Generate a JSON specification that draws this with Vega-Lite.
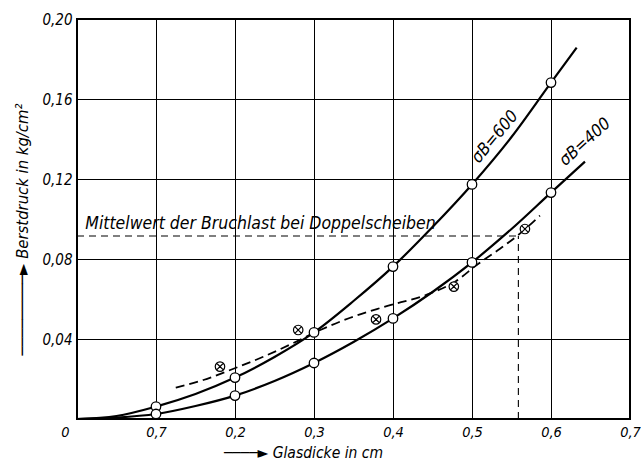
{
  "$schema": "https://vega.github.io/schema/vega-lite/v6.json",
  "width": 553,
  "height": 400,
  "autosize": {"type": "none"},
  "padding": {"left": 77, "top": 19, "right": 11, "bottom": 44},
  "background": "white",
  "config": {
    "font": "DejaVu Sans Condensed",
    "view": {"stroke": "black", "strokeWidth": 2},
    "axis": {
      "labelFont": "DejaVu Sans Condensed",
      "labelFontStyle": "italic",
      "labelFontSize": 15,
      "labelColor": "black",
      "titleFont": "DejaVu Sans Condensed",
      "titleFontStyle": "italic",
      "titleFontWeight": "normal",
      "titleFontSize": 16.5,
      "titleColor": "black",
      "gridColor": "black",
      "gridWidth": 1,
      "gridOpacity": 1,
      "domain": false,
      "ticks": false
    }
  },
  "datasets": {
    "curves": [
      {"x": 0, "y": 0, "curve": "600"},
      {"x": 0.05, "y": 0.0015, "curve": "600"},
      {"x": 0.1, "y": 0.0062, "curve": "600"},
      {"x": 0.15, "y": 0.0125, "curve": "600"},
      {"x": 0.2, "y": 0.0207, "curve": "600"},
      {"x": 0.25, "y": 0.031, "curve": "600"},
      {"x": 0.3, "y": 0.0433, "curve": "600"},
      {"x": 0.35, "y": 0.059, "curve": "600"},
      {"x": 0.4, "y": 0.0762, "curve": "600"},
      {"x": 0.45, "y": 0.096, "curve": "600"},
      {"x": 0.5, "y": 0.1173, "curve": "600"},
      {"x": 0.55, "y": 0.141, "curve": "600"},
      {"x": 0.6, "y": 0.1682, "curve": "600"},
      {"x": 0.6325, "y": 0.1857, "curve": "600"},
      {"x": 0, "y": 0, "curve": "400"},
      {"x": 0.05, "y": 0.0007, "curve": "400"},
      {"x": 0.1, "y": 0.0025, "curve": "400"},
      {"x": 0.15, "y": 0.0065, "curve": "400"},
      {"x": 0.2, "y": 0.0117, "curve": "400"},
      {"x": 0.25, "y": 0.019, "curve": "400"},
      {"x": 0.3, "y": 0.028, "curve": "400"},
      {"x": 0.35, "y": 0.0385, "curve": "400"},
      {"x": 0.4, "y": 0.0503, "curve": "400"},
      {"x": 0.45, "y": 0.0635, "curve": "400"},
      {"x": 0.5, "y": 0.0783, "curve": "400"},
      {"x": 0.55, "y": 0.095, "curve": "400"},
      {"x": 0.6, "y": 0.1132, "curve": "400"},
      {"x": 0.643, "y": 0.1287, "curve": "400"}
    ],
    "dashed": [
      {"x": 0.125, "y": 0.0157},
      {"x": 0.16, "y": 0.0195},
      {"x": 0.194, "y": 0.0245},
      {"x": 0.235, "y": 0.031},
      {"x": 0.273, "y": 0.0378},
      {"x": 0.308, "y": 0.0445},
      {"x": 0.345, "y": 0.0505},
      {"x": 0.388, "y": 0.056},
      {"x": 0.447, "y": 0.0628},
      {"x": 0.48, "y": 0.069},
      {"x": 0.506, "y": 0.077},
      {"x": 0.535, "y": 0.085},
      {"x": 0.561, "y": 0.0928},
      {"x": 0.586, "y": 0.1017}
    ],
    "refs": [
      {"x": 0, "x2": 0.5587, "y": 0.0915, "y2": 0.0915},
      {"x": 0.5587, "x2": 0.5587, "y": 0, "y2": 0.0915}
    ],
    "open": [
      {"x": 0.1, "y": 0.0062},
      {"x": 0.1, "y": 0.0025},
      {"x": 0.2, "y": 0.0207},
      {"x": 0.2, "y": 0.0117},
      {"x": 0.3, "y": 0.0433},
      {"x": 0.3, "y": 0.028},
      {"x": 0.4, "y": 0.0762},
      {"x": 0.4, "y": 0.0503},
      {"x": 0.5, "y": 0.1173},
      {"x": 0.5, "y": 0.0783},
      {"x": 0.6, "y": 0.1682},
      {"x": 0.6, "y": 0.1132}
    ],
    "crossed": [
      {"x": 0.181, "y": 0.0262},
      {"x": 0.28, "y": 0.0445},
      {"x": 0.3785, "y": 0.0498},
      {"x": 0.477, "y": 0.0662},
      {"x": 0.567, "y": 0.095}
    ],
    "labels": [
      {"x": 0.529, "y": 0.141, "text": "σB=600", "angle": 310},
      {"x": 0.643, "y": 0.1385, "text": "σB=400", "angle": 318}
    ],
    "note": [
      {"x": 0.0105, "y": 0.095, "text": "Mittelwert der Bruchlast bei Doppelscheiben"}
    ]
  },
  "layer": [
    {
      "data": {"name": "refs"},
      "mark": {"type": "rule", "strokeDash": [7, 5], "strokeWidth": 1.1, "color": "black"},
      "encoding": {
        "x": {"field": "x", "type": "quantitative", "scale": {"domain": [0, 0.7], "nice": false, "zero": false},
          "axis": {"values": [0, 0.1, 0.2, 0.3, 0.4, 0.5, 0.6, 0.7], "grid": true, "labelPadding": 6, "labelFontSize": 14.5,
            "labelExpr": "datum.value == 0 ? '0' : (datum.value < 0.15 ? '0,7' : replace(format(datum.value, '.1f'), '.', ','))",
            "labelAlign": {"condition": {"test": "datum.value == 0", "value": "right"}, "value": "center"},
            "labelOffset": {"condition": {"test": "datum.value == 0", "value": -8}, "value": 0},
            "title": "────► Glasdicke in cm", "titleFontSize": 15.5, "titleX": 226, "titleY": 38.5, "titleAlign": "center", "titleBaseline": "alphabetic"}},
        "x2": {"field": "x2"},
        "y": {"field": "y", "type": "quantitative", "scale": {"domain": [0, 0.2], "nice": false, "zero": false},
          "axis": {"values": [0, 0.04, 0.08, 0.12, 0.16, 0.2], "grid": true, "labelPadding": 5,
            "labelExpr": "datum.value == 0 ? '' : replace(format(datum.value, '.2f'), '.', ',')",
            "title": "─────────► Berstdruck in kg/cm²", "titleX": -55, "titleY": 210, "titleAngle": 270, "titleAlign": "center", "titleBaseline": "middle"}},
        "y2": {"field": "y2"}
      }
    },
    {
      "data": {"name": "curves"},
      "mark": {"type": "line", "interpolate": "monotone", "color": "black", "strokeWidth": 2.2},
      "encoding": {
        "x": {"field": "x", "type": "quantitative"},
        "y": {"field": "y", "type": "quantitative"},
        "detail": {"field": "curve"}
      }
    },
    {
      "data": {"name": "dashed"},
      "mark": {"type": "line", "interpolate": "monotone", "color": "black", "strokeWidth": 1.8, "strokeDash": [9, 5]},
      "encoding": {
        "x": {"field": "x", "type": "quantitative"},
        "y": {"field": "y", "type": "quantitative"}
      }
    },
    {
      "data": {"name": "open"},
      "mark": {"type": "point", "shape": "circle", "filled": false, "fill": "white", "fillOpacity": 1, "stroke": "black", "strokeWidth": 1.3, "size": 90, "opacity": 1},
      "encoding": {
        "x": {"field": "x", "type": "quantitative"},
        "y": {"field": "y", "type": "quantitative"}
      }
    },
    {
      "data": {"name": "crossed"},
      "mark": {"type": "point", "shape": "M -1 0 A 1 1 0 1 0 1 0 A 1 1 0 1 0 -1 0 M -0.65 -0.65 L 0.65 0.65 M -0.65 0.65 L 0.65 -0.65", "filled": false, "fill": "white", "fillOpacity": 1, "stroke": "black", "strokeWidth": 1.2, "size": 90, "opacity": 1},
      "encoding": {
        "x": {"field": "x", "type": "quantitative"},
        "y": {"field": "y", "type": "quantitative"}
      }
    },
    {
      "data": {"name": "labels"},
      "mark": {"type": "text", "fontSize": 17, "fontStyle": "italic", "color": "black", "align": "center", "baseline": "middle"},
      "encoding": {
        "x": {"field": "x", "type": "quantitative"},
        "y": {"field": "y", "type": "quantitative"},
        "text": {"field": "text"},
        "angle": {"field": "angle", "type": "quantitative", "scale": null}
      }
    },
    {
      "data": {"name": "note"},
      "mark": {"type": "text", "fontSize": 17.5, "fontStyle": "italic", "color": "black", "align": "left", "baseline": "alphabetic"},
      "encoding": {
        "x": {"field": "x", "type": "quantitative"},
        "y": {"field": "y", "type": "quantitative"},
        "text": {"field": "text"}
      }
    }
  ]
}
